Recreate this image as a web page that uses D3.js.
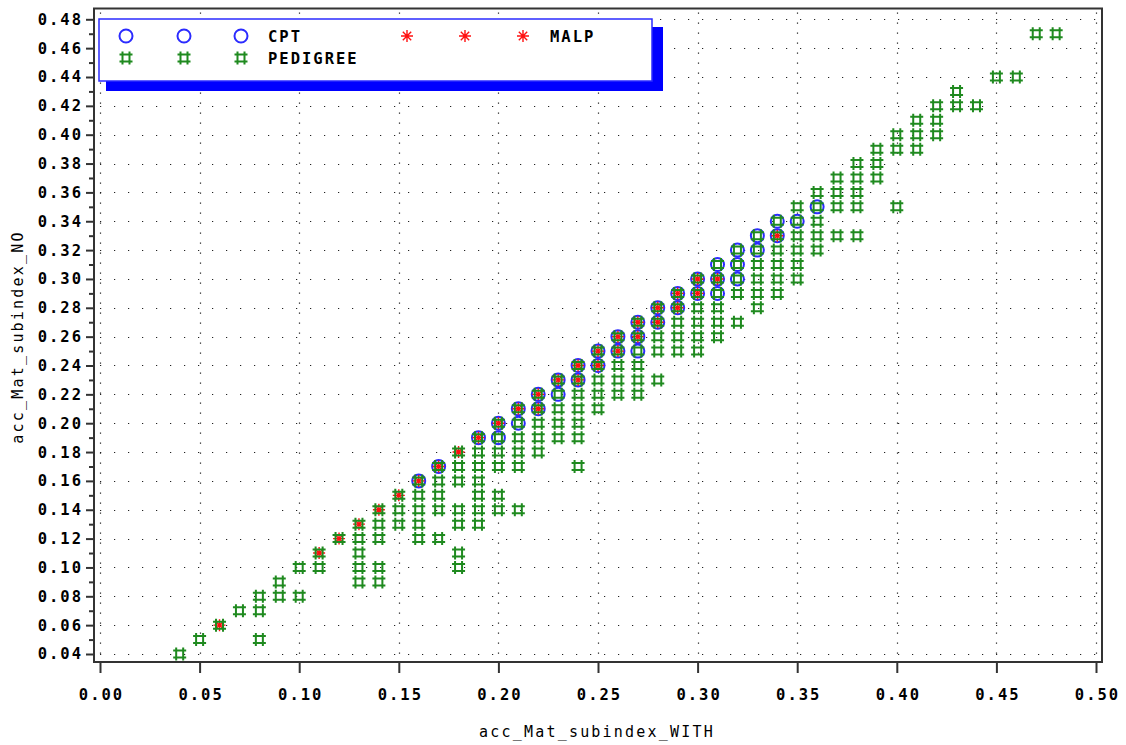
<!DOCTYPE html>
<html>
<head>
<meta charset="utf-8">
<script src="https://cdnjs.cloudflare.com/ajax/libs/d3/7.8.5/d3.min.js"></script>
<style>
  body { margin: 0; background: #fff; }
  svg { display: block; }
</style>
</head>
<body>
<svg id="chart" width="1126" height="745"></svg>
<script>
// x positions (acc_Mat_subindex_WITH) and the y values (acc_Mat_subindex_NO) plotted at each
var cptX = [0.16, 0.17, 0.19, 0.20, 0.21, 0.22, 0.23, 0.24, 0.25, 0.26, 0.27, 0.28, 0.29, 0.30, 0.31, 0.32, 0.33, 0.34, 0.35, 0.36];
var cptY = [[0.16], [0.17], [0.19], [0.20, 0.19], [0.21, 0.20], [0.22, 0.21], [0.23, 0.22], [0.24, 0.23], [0.25, 0.24],
  [0.26, 0.25], [0.27, 0.26, 0.25], [0.28, 0.27], [0.29, 0.28], [0.30, 0.29], [0.31, 0.30, 0.29], [0.32, 0.31, 0.30],
  [0.33, 0.32], [0.34, 0.33], [0.34], [0.35]];

var malpX = [0.06, 0.11, 0.12, 0.13, 0.14, 0.15, 0.16, 0.17, 0.18, 0.19, 0.20, 0.21, 0.22, 0.23, 0.24, 0.25, 0.26, 0.27, 0.28, 0.29, 0.30, 0.31, 0.34];
var malpY = [[0.06], [0.11], [0.12], [0.13], [0.14], [0.15], [0.16], [0.17], [0.18], [0.19], [0.20], [0.21], [0.22, 0.21],
  [0.23], [0.24, 0.23], [0.25, 0.24], [0.26, 0.25], [0.27, 0.26], [0.28, 0.27], [0.29, 0.28], [0.30, 0.29], [0.30], [0.33]];

var pedX = [0.04, 0.05, 0.06, 0.07, 0.08, 0.09, 0.10, 0.11, 0.12, 0.13, 0.14, 0.15, 0.16, 0.17, 0.18, 0.19, 0.20, 0.21, 0.22,
  0.23, 0.24, 0.25, 0.26, 0.27, 0.28, 0.29, 0.30, 0.31, 0.32, 0.33, 0.34, 0.35, 0.36, 0.37, 0.38, 0.39, 0.40, 0.41, 0.42,
  0.43, 0.44, 0.45, 0.46, 0.47, 0.48];
var pedY = [
  [0.04], [0.05], [0.06], [0.07], [0.08, 0.07, 0.05], [0.09, 0.08], [0.10, 0.08], [0.11, 0.10], [0.12],
  [0.13, 0.12, 0.11, 0.10, 0.09], [0.14, 0.13, 0.12, 0.10, 0.09], [0.15, 0.14, 0.13],
  [0.16, 0.15, 0.14, 0.13, 0.12], [0.17, 0.16, 0.15, 0.14, 0.12], [0.18, 0.17, 0.16, 0.14, 0.13, 0.11, 0.10],
  [0.19, 0.18, 0.17, 0.16, 0.15, 0.14, 0.13], [0.20, 0.19, 0.18, 0.17, 0.15, 0.14], [0.21, 0.20, 0.19, 0.18, 0.17, 0.14],
  [0.22, 0.21, 0.20, 0.19, 0.18], [0.23, 0.22, 0.21, 0.20, 0.19], [0.24, 0.23, 0.22, 0.21, 0.20, 0.19, 0.17],
  [0.25, 0.24, 0.23, 0.22, 0.21], [0.26, 0.25, 0.24, 0.23, 0.22], [0.27, 0.26, 0.25, 0.24, 0.23, 0.22],
  [0.28, 0.27, 0.26, 0.25, 0.23], [0.29, 0.28, 0.27, 0.26, 0.25], [0.30, 0.29, 0.28, 0.27, 0.26, 0.25],
  [0.31, 0.30, 0.29, 0.28, 0.27, 0.26], [0.32, 0.31, 0.30, 0.29, 0.27], [0.33, 0.32, 0.31, 0.30, 0.29, 0.28],
  [0.34, 0.33, 0.32, 0.31, 0.30, 0.29], [0.35, 0.34, 0.33, 0.32, 0.31, 0.30], [0.36, 0.35, 0.34, 0.33, 0.32],
  [0.37, 0.36, 0.35, 0.33], [0.38, 0.37, 0.36, 0.35, 0.33], [0.39, 0.38, 0.37], [0.40, 0.39, 0.35],
  [0.41, 0.40, 0.39], [0.42, 0.41, 0.40], [0.43, 0.42], [0.42], [0.44], [0.44], [0.47], [0.47]];

var xTicks = [0.00, 0.05, 0.10, 0.15, 0.20, 0.25, 0.30, 0.35, 0.40, 0.45, 0.50];
var yTicks = [0.04, 0.06, 0.08, 0.10, 0.12, 0.14, 0.16, 0.18, 0.20, 0.22, 0.24, 0.26,
  0.28, 0.30, 0.32, 0.34, 0.36, 0.38, 0.40, 0.42, 0.44, 0.46, 0.48];
var yMinor = [0.05, 0.07, 0.09, 0.11, 0.13, 0.15, 0.17, 0.19, 0.21, 0.23, 0.25, 0.27,
  0.29, 0.31, 0.33, 0.35, 0.37, 0.39, 0.41, 0.43, 0.45, 0.47];

var series = ['CPT', 'MALP', 'PEDIGREE'];

function flatten(xs, ys) {
  var out = [];
  xs.forEach(function (x, i) {
    ys[i].forEach(function (y) { out.push({ x: x, y: y }); });
  });
  return out;
}

var svg = d3.select('#chart');
var box = { left: 94, right: 1102, top: 8.5, bottom: 662 };
var FONT = 'DejaVu Sans Mono';

var x = d3.scaleLinear().domain([0, 0.5]).range([100, 1096]);
var y = d3.scaleLinear().domain([0.04, 0.48]).range([654, 19.3]);
var fmt = d3.format('.2f');

svg.append('rect').attr('width', 1126).attr('height', 745).attr('fill', '#fff');

// dotted reference lines
var grid = svg.append('g').attr('stroke', '#222').attr('stroke-width', 1.2);
grid.selectAll('line.h').data(yTicks).enter().append('line')
  .attr('x1', box.left + 6).attr('x2', box.right)
  .attr('y1', function (d) { return Math.round(y(d)) + 0.5; })
  .attr('y2', function (d) { return Math.round(y(d)) + 0.5; })
  .attr('stroke-dasharray', '1.2,12.8');
grid.selectAll('line.v').data(xTicks).enter().append('line')
  .attr('x1', function (d) { return Math.round(x(d)) + 0.5; })
  .attr('x2', function (d) { return Math.round(x(d)) + 0.5; })
  .attr('y1', box.top + 4).attr('y2', box.bottom)
  .attr('stroke-dasharray', '1.2,8.8');

// axes
svg.append('g')
  .attr('transform', 'translate(' + box.left + ',0)')
  .call(d3.axisLeft(y).tickValues(yTicks).tickSize(8).tickPadding(3).tickFormat(fmt));
svg.append('g')
  .attr('transform', 'translate(' + box.left + ',0)')
  .call(d3.axisLeft(y).tickValues(yMinor).tickSize(5).tickFormat(''));
var xAxis = svg.append('g')
  .attr('transform', 'translate(0,' + box.bottom + ')')
  .call(d3.axisBottom(x).tickValues(xTicks).tickSize(11).tickPadding(16).tickFormat(fmt));

svg.selectAll('.domain').remove();
svg.selectAll('.tick line').attr('stroke', '#333').attr('stroke-width', 2);
svg.selectAll('.tick text')
  .attr('font-family', FONT).attr('font-weight', 'bold').attr('font-size', 15.5)
  .attr('letter-spacing', '2px').attr('fill', '#000');
xAxis.selectAll('.tick text').attr('dx', '1px');

// frame
svg.append('rect')
  .attr('x', box.left).attr('y', box.top)
  .attr('width', box.right - box.left).attr('height', box.bottom - box.top)
  .attr('fill', 'none').attr('stroke', '#333').attr('stroke-width', 2);

// marker shapes
var hashPath = 'M-3.5,-6.5V6.5M3.5,-6.5V6.5M-6.5,-3.5H6.5M-6.5,3.5H6.5';
var starPath = 'M0,-6V6M-6,0H6M-4.2,-4.2L4.2,4.2M-4.2,4.2L4.2,-4.2';
var colors = { CPT: '#2b2bff', MALP: '#ff1010', PEDIGREE: '#1f8a1f' };

function drawMarker(sel, key) {
  if (key === 'CPT') {
    sel.append('circle').attr('r', 6.5).attr('fill', 'none')
      .attr('stroke', colors.CPT).attr('stroke-width', 2);
  } else if (key === 'MALP') {
    sel.append('path').attr('d', starPath).attr('fill', 'none')
      .attr('stroke', colors.MALP).attr('stroke-width', 1.4);
  } else {
    sel.append('path').attr('d', hashPath).attr('fill', 'none')
      .attr('stroke', colors.PEDIGREE).attr('stroke-width', 2);
  }
}

var pts = {
  CPT: flatten(cptX, cptY),
  MALP: flatten(malpX, malpY),
  PEDIGREE: flatten(pedX, pedY)
};

series.forEach(function (key) {
  svg.append('g').selectAll('g').data(pts[key]).enter().append('g')
    .attr('transform', function (d) { return 'translate(' + x(d.x) + ',' + y(d.y) + ')'; })
    .each(function () { drawMarker(d3.select(this), key); });
});

// legend
var lg = svg.append('g');
lg.append('rect').attr('x', 106).attr('y', 27).attr('width', 557).attr('height', 64).attr('fill', '#0000ff');
lg.append('rect').attr('x', 99).attr('y', 19).attr('width', 553).attr('height', 62)
  .attr('fill', '#fff').attr('stroke', '#2b2bff').attr('stroke-width', 1.5);

var legendItems = [
  { key: 'CPT', sx: [126, 184, 241], tx: 268, cy: 36 },
  { key: 'MALP', sx: [407, 465, 523], tx: 550, cy: 36 },
  { key: 'PEDIGREE', sx: [126, 184, 241], tx: 268, cy: 58 }
];
legendItems.forEach(function (it) {
  it.sx.forEach(function (sx) {
    var g = lg.append('g').attr('transform', 'translate(' + sx + ',' + it.cy + ')');
    drawMarker(g, it.key);
  });
  lg.append('text').attr('x', it.tx).attr('y', it.cy + 5.5)
    .attr('font-family', FONT).attr('font-weight', 'bold').attr('font-size', 15.5)
    .attr('letter-spacing', '2px').text(it.key);
});

// axis titles
svg.append('text').attr('x', 597).attr('y', 737).attr('text-anchor', 'middle')
  .attr('font-family', FONT).attr('font-size', 15).attr('letter-spacing', '2.2px')
  .text('acc_Mat_subindex_WITH');
svg.append('text').attr('transform', 'translate(23,337) rotate(-90)').attr('text-anchor', 'middle')
  .attr('font-family', FONT).attr('font-size', 15).attr('letter-spacing', '2.2px')
  .text('acc_Mat_subindex_NO');
</script>
</body>
</html>
